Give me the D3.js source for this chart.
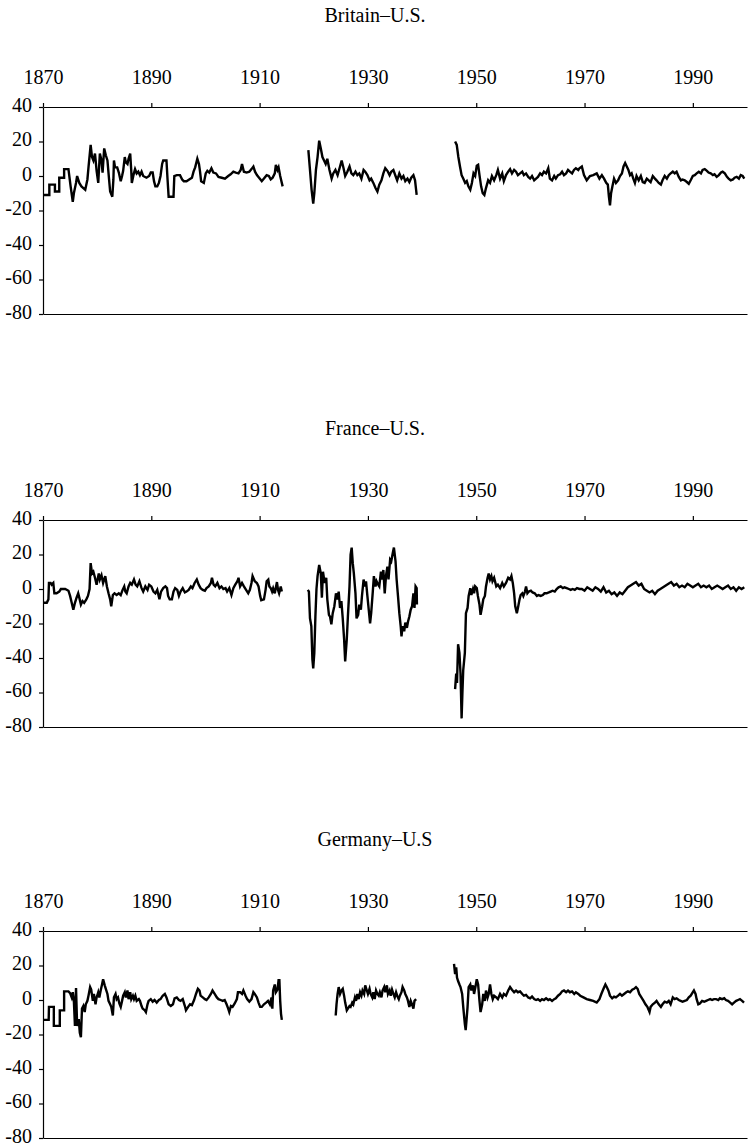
<!DOCTYPE html>
<html>
<head>
<meta charset="utf-8">
<script src="https://d3js.org/d3.v7.min.js"></script>
<style>
  body { margin: 0; background: #fff; }
</style>
</head>
<body>
<div id="chart"></div>
<script>
// axis ticks and panel titles
var yearTicks = [1870, 1890, 1910, 1930, 1950, 1970, 1990];
var valueTicks = [40, 20, 0, -20, -40, -60, -80];
var titles = ["Britain–U.S.", "France–U.S.", "Germany–U.S"];

// [year, value] pairs, one array per unbroken stretch
var britainA = [[1870,-11],[1871.17,-11],[1871.17,-5],[1872.2,-5],[1872.2,-9],[1873,-9],[1873,-1],[1873.9,-1],[1873.9,4],[1874.7,4],[1875.1,-6],[1875.5,-15],[1875.7,-10],[1876.1,-4],[1876.3,0],[1876.7,-4],[1877.1,-6],[1877.8,-8],[1878.2,-2],[1878.4,5],[1878.8,18],[1879.05,11],[1879.3,9],[1879.6,13],[1879.9,3],[1880.2,-4],[1880.5,13],[1880.8,9],[1881,2],[1881.3,16],[1881.6,12],[1881.9,9],[1882.2,-2],[1882.4,-9],[1882.8,-12],[1883,-2],[1883.1,9],[1883.3,5],[1883.7,5],[1884,2],[1884.35,-3],[1884.6,0],[1884.8,3],[1885.1,11],[1885.3,8],[1885.6,7],[1885.8,10],[1886.1,13],[1886.3,3],[1886.4,-4],[1886.7,0.5],[1887,4],[1887.3,1.5],[1887.6,2.5],[1887.9,0.5],[1888.2,2.5],[1888.5,0],[1889.1,-1],[1889.6,0],[1889.9,2],[1890.25,2],[1890.5,-3],[1890.75,-6],[1891.1,-6],[1891.4,-4],[1891.7,0],[1892,7],[1892.2,9],[1892.8,9],[1893,-2],[1893.2,-12],[1894.1,-12],[1894.25,0],[1894.7,0.5],[1895.3,0.5],[1895.7,-2],[1896,-3],[1896.5,-3],[1897,-2],[1897.5,-1],[1897.8,2.5],[1898.1,5],[1898.5,10],[1898.8,7],[1899,2.5],[1899.2,-3],[1899.7,-4],[1900.05,1.5],[1900.35,3],[1900.7,2],[1901.1,4.5],[1901.45,2],[1901.95,1.5],[1902.4,-0.5],[1903,-1],[1903.6,-1.5],[1904.2,0],[1904.65,1],[1905.15,2.5],[1905.6,2],[1906.1,1.5],[1906.5,3.5],[1906.75,7],[1907.1,2.5],[1907.6,2],[1908.1,2.5],[1908.5,4],[1908.85,5.5],[1909.15,2.5],[1909.5,0.5],[1909.9,-1],[1910.4,-3],[1910.8,-1.5],[1911.3,0.5],[1911.7,0],[1912.05,-2],[1912.4,-1],[1912.8,1.5],[1913,6.5],[1913.3,3.5],[1913.5,5],[1913.8,0],[1913.95,-2],[1914.25,-6]];
var britainB = [[1919,15],[1919.3,3.5],[1919.6,-8],[1919.9,-16],[1920.1,-10],[1920.4,3.5],[1920.7,11],[1921,20.5],[1921.3,16],[1921.6,11],[1921.9,9],[1922.2,7],[1922.5,10],[1922.9,3.5],[1923.3,-1.5],[1923.6,1.5],[1924,3.5],[1924.4,0.5],[1924.85,5.5],[1925.15,9],[1925.5,4.5],[1925.8,0],[1926.2,2.5],[1926.6,5.5],[1926.95,1.5],[1927.3,0.5],[1927.7,2.5],[1928.05,0.5],[1928.4,1.5],[1928.8,-1.5],[1929.2,3.5],[1929.5,2.5],[1929.9,0.5],[1930.3,-2.5],[1930.6,-1.5],[1931,-4],[1931.4,-7],[1931.75,-9],[1932.1,-5],[1932.5,-2.5],[1932.85,1.5],[1933.2,4.5],[1933.6,3],[1934,0.5],[1934.3,2.5],[1934.7,3.5],[1935.1,0],[1935.4,-2.5],[1935.8,1.5],[1936.2,-1.5],[1936.55,0],[1936.9,-3],[1937.3,-1.5],[1937.65,-3.5],[1938,-1],[1938.4,0.5],[1938.7,-2.5],[1939,-11]];
var britainC = [[1946.1,20],[1946.4,18],[1946.7,11],[1947,5.5],[1947.3,0.5],[1947.6,-1.5],[1947.95,-4],[1948.25,-3],[1948.55,-6],[1948.9,-8],[1949.2,-4],[1949.5,1.5],[1949.8,0],[1950.1,6],[1950.35,6.5],[1950.6,0.5],[1950.9,-6],[1951.2,-10],[1951.5,-11],[1951.8,-7],[1952.2,-2.5],[1952.55,-4],[1952.9,0],[1953.3,-2.5],[1953.7,0.5],[1954,3.5],[1954.4,-1.5],[1954.8,1.5],[1955.1,-3],[1955.5,0.5],[1955.9,2.5],[1956.25,4],[1956.6,1.5],[1957,3.5],[1957.35,2.5],[1957.7,0.5],[1958.1,1.5],[1958.5,2.5],[1958.8,0.5],[1959.2,1.5],[1959.6,-0.5],[1959.95,-1.5],[1960.3,0],[1960.7,-2.5],[1961.05,-1.5],[1961.4,-0.5],[1961.8,1.5],[1962.15,0.5],[1962.5,2.5],[1962.9,1.5],[1963.3,4.5],[1963.6,-1.5],[1964,-2.5],[1964.4,0],[1964.7,-1.5],[1965.1,0.5],[1965.5,1],[1965.85,2.5],[1966.2,0.5],[1966.6,1.5],[1966.95,3.5],[1967.3,2.5],[1967.7,1.5],[1968.05,3.5],[1968.4,4.5],[1968.85,3.5],[1969.05,4.5],[1969.5,5.5],[1969.9,0.5],[1970.4,-2.5],[1971,0],[1971.6,0.5],[1972.25,1.5],[1972.75,-1.5],[1973.2,0.5],[1973.6,-1.5],[1974,-4],[1974.3,-5],[1974.5,-12],[1974.7,-17],[1974.9,-10],[1975.15,-6],[1975.45,-1.5],[1975.8,-4],[1976.2,-2.5],[1976.55,0],[1976.9,1.5],[1977.2,5.5],[1977.5,7.5],[1977.8,5.5],[1978.1,3.5],[1978.4,0.5],[1978.7,1.5],[1979,-1.5],[1979.3,-4],[1979.6,0],[1980,-2.5],[1980.4,0],[1980.75,-3.5],[1981.1,-4],[1981.5,-1.5],[1981.85,-2.5],[1982.2,-3.5],[1982.6,0],[1983,-1.5],[1983.3,-2.5],[1983.7,-4],[1984.1,-5],[1984.4,-2.5],[1984.8,0],[1985.2,-1.5],[1985.55,0.5],[1985.9,1.5],[1986.3,2.5],[1986.65,1.5],[1987,2.5],[1987.4,-0.5],[1987.8,-2.5],[1988.1,-2],[1988.5,-2.5],[1988.9,-3.5],[1989.25,-4.5],[1989.6,-2.5],[1990,0],[1990.35,0.5],[1990.7,1.5],[1991.1,2.5],[1991.5,1.5],[1991.8,3.5],[1992.2,4],[1992.6,3],[1992.9,2],[1993.3,1.5],[1993.7,0.5],[1994,1],[1994.4,-0.5],[1994.8,0.5],[1995.2,2],[1995.5,2.5],[1995.9,1.5],[1996.3,-0.5],[1996.6,-1.5],[1997,-2.5],[1997.4,-2],[1997.7,-1],[1998.1,-0.5],[1998.5,-1.5],[1998.85,0.5],[1999.2,0],[1999.5,-1.5]];

var franceA = [[1870.06,-8],[1870.7,-8],[1871,-6],[1871.1,3.5],[1871.4,3.5],[1871.6,2.5],[1871.9,3.5],[1872.1,-2.5],[1872.5,-2.5],[1873,-1.5],[1873.3,0],[1874.1,0],[1874.7,-1],[1875,-4],[1875.3,-8],[1875.6,-12],[1875.9,-8],[1876.2,-5],[1876.5,-2.5],[1876.7,-5],[1877,-9],[1877.3,-7],[1877.6,-8],[1878,-6],[1878.3,-4],[1878.6,0],[1878.8,15],[1879.05,9],[1879.3,10],[1879.6,6.5],[1879.9,2.5],[1880.3,9],[1880.5,5.5],[1880.8,8],[1881.1,3.5],[1881.5,7.5],[1881.8,1.5],[1882.1,-2.5],[1882.4,-6],[1882.6,-10],[1882.9,-3.5],[1883.2,-2.5],[1883.6,-3.5],[1884,-2.5],[1884.35,-3.5],[1884.7,-0.5],[1885,1.5],[1885.2,-1.5],[1885.45,-2.5],[1885.8,1.5],[1886.1,3.5],[1886.4,2.5],[1886.8,5.5],[1887.1,2.5],[1887.4,1.5],[1887.8,4.5],[1888.2,0.5],[1888.5,-1.5],[1888.9,1.5],[1889.3,-0.5],[1889.6,2.5],[1890,1.5],[1890.4,-1.5],[1890.75,-2.5],[1891.1,-0.5],[1891.5,-6],[1891.8,-1.5],[1892.2,0.5],[1892.6,1.5],[1892.9,0.5],[1893.1,-4],[1893.4,-6],[1893.8,-6],[1894.1,-1.5],[1894.4,0.5],[1894.8,-0.5],[1895.1,-4],[1895.4,-1.5],[1895.8,0.5],[1896.2,-2],[1896.5,-1.5],[1896.9,-0.5],[1897.3,1.5],[1897.6,0.5],[1898,3.5],[1898.4,5.5],[1898.75,2.5],[1899.1,0.5],[1899.5,-0.5],[1899.9,-1],[1900.2,0.5],[1900.6,1.5],[1901,3.5],[1901.2,6.5],[1901.5,2.5],[1901.8,1.5],[1902.2,3.5],[1902.6,0.5],[1902.95,1.5],[1903.3,0],[1903.7,0.5],[1904,-1.5],[1904.4,0.5],[1904.8,-3.5],[1905.15,0.5],[1905.5,2.5],[1905.9,4.5],[1906.1,6.5],[1906.4,1.5],[1906.75,3.5],[1907.1,1.5],[1907.5,-0.5],[1907.9,-2.5],[1908.2,-0.5],[1908.5,3.5],[1908.7,7.5],[1909.1,4.5],[1909.5,3.5],[1909.8,1.5],[1910.1,-4],[1910.3,-6.5],[1910.8,-6],[1911.1,-0.5],[1911.3,4.5],[1911.6,5.5],[1911.8,1.5],[1912.05,0.5],[1912.3,-1.5],[1912.5,0.5],[1912.8,-2.5],[1913.2,4],[1913.4,-0.5],[1913.6,-2.5],[1913.9,1.5],[1914.1,-1.5]];
var franceB = [[1918.9,-0.5],[1919.1,-1.5],[1919.3,-17],[1919.55,-21.5],[1919.75,-41],[1919.9,-46],[1920.1,-37],[1920.3,-16],[1920.5,0],[1920.7,7.5],[1921,14],[1921.3,9],[1921.5,-5],[1921.7,10],[1922,3.5],[1922.3,6.5],[1922.5,-6],[1922.8,-15],[1923,-16],[1923.25,-20.5],[1923.5,-14],[1923.8,-10],[1924.1,-2.5],[1924.4,-6],[1924.6,-1.5],[1924.85,-11],[1925.1,-7],[1925.35,-17],[1925.6,-29],[1925.8,-42],[1926.1,-29],[1926.3,-16],[1926.6,1.5],[1926.8,20],[1927,24],[1927.2,15],[1927.4,9],[1927.7,-2.5],[1927.9,-17],[1928.2,-15],[1928.4,-9],[1928.7,-12],[1928.9,-4],[1929.2,5.5],[1929.4,1.5],[1929.65,4.5],[1929.9,-4],[1930.15,-12],[1930.4,-20],[1930.6,-14],[1930.9,-1.5],[1931.1,7.5],[1931.4,1.5],[1931.6,4.5],[1931.9,2.5],[1932.1,1.5],[1932.4,10],[1932.6,5.5],[1932.85,11],[1933.1,-2.5],[1933.35,8],[1933.6,13],[1933.8,5.5],[1934.1,17],[1934.3,16],[1934.6,21],[1934.8,24],[1935.1,16],[1935.3,5.5],[1935.55,-4],[1935.8,-14],[1936.05,-21.5],[1936.2,-27.5],[1936.4,-21.5],[1936.7,-24.5],[1936.9,-19.5],[1937.2,-22.5],[1937.4,-19],[1937.65,-16],[1937.9,-12],[1938.15,-10],[1938.4,-2.5],[1938.6,-11],[1938.8,1.5],[1939,0.5],[1939.05,-9]];
var franceC = [[1946.1,-58],[1946.3,-49],[1946.45,-54.5],[1946.65,-32],[1946.9,-37],[1947.1,-49],[1947.3,-75],[1947.45,-60],[1947.6,-47],[1947.9,-37],[1948.1,-14],[1948.4,-11],[1948.6,-4],[1948.9,0.5],[1949.1,-3.5],[1949.4,0],[1949.6,-2.5],[1949.8,1.5],[1950.1,0.5],[1950.3,-4],[1950.6,-9],[1950.8,-15],[1951.1,-10],[1951.3,-6],[1951.6,-4],[1951.8,1.5],[1952.1,6.5],[1952.3,9],[1952.55,5.5],[1952.8,7.5],[1953,4.5],[1953.3,6.5],[1953.7,1.5],[1954,2.5],[1954.4,0.5],[1954.8,3.5],[1955.1,1.5],[1955.5,3.5],[1955.9,6.5],[1956.25,5.5],[1956.5,7.5],[1956.75,3.5],[1957,-2.5],[1957.2,-10],[1957.5,-14],[1957.7,-11],[1958,-6],[1958.2,-3.5],[1958.5,-2.5],[1958.7,-4],[1959,-1.5],[1959.2,1.5],[1959.45,-2.5],[1959.7,-1.5],[1960.1,-1],[1960.4,-2],[1960.8,-2.5],[1961.2,-4],[1961.5,-3.5],[1961.9,-4],[1962.3,-3.5],[1962.6,-2.5],[1963,-2.5],[1963.4,-2],[1963.75,-1.5],[1964.1,-1],[1964.5,-1.5],[1964.85,0],[1965.2,1],[1965.6,1.5],[1966,0.5],[1966.3,1],[1966.7,0.5],[1967.1,0],[1967.45,-0.5],[1967.8,0],[1968.2,-0.5],[1968.6,0.5],[1969.05,0],[1969.5,0],[1970,-1],[1970.5,1],[1971,0],[1971.5,-1],[1972,1],[1972.5,0],[1973,-1.5],[1973.5,1],[1974,-2],[1974.5,-1],[1975,-3],[1975.5,-2],[1976,-4],[1976.5,-2],[1977,-3],[1977.5,-1],[1978,1],[1978.5,2],[1979,3],[1979.5,4],[1980,2],[1980.5,3],[1981,0],[1981.5,-1],[1982,-2],[1982.5,-1],[1983,-3],[1983.5,-1],[1984,0],[1984.5,1],[1985,2],[1985.5,3],[1986,4],[1986.5,2],[1987,3],[1987.5,1],[1988,2],[1988.5,1],[1989,3],[1989.5,2],[1990,1],[1990.5,2],[1991,3],[1991.5,1],[1992,2],[1992.5,1],[1993,2],[1993.5,0],[1994,1],[1994.5,2],[1995,1],[1995.5,0],[1996,1],[1996.5,2],[1997,0],[1997.5,1],[1998,-1],[1998.5,1],[1999,0],[1999.5,1]];

var germanyA = [[1870.06,-11.5],[1871.05,-11.5],[1871.1,-4],[1872,-4],[1872,-15],[1873.1,-15],[1873.1,-6],[1873.9,-6],[1873.9,5],[1874.7,5],[1875,4],[1875.3,1.5],[1875.5,4.5],[1875.7,-0.5],[1875.9,-15],[1876.1,7],[1876.3,-15],[1876.6,-11],[1876.8,-19],[1877,-21.5],[1877.2,-5],[1877.45,-3.5],[1877.7,-7],[1877.9,-2.5],[1878.2,-0.5],[1878.4,2.5],[1878.7,7.5],[1878.9,6],[1879.2,-0.5],[1879.4,3.5],[1879.7,-2.5],[1879.9,1.5],[1880.2,4.5],[1880.4,1.5],[1880.65,5.5],[1880.9,9],[1881.1,12],[1881.4,8.5],[1881.6,6.5],[1881.9,3.5],[1882.1,-0.5],[1882.4,-2.5],[1882.6,-4],[1882.9,-9],[1883.1,1.5],[1883.4,3.5],[1883.6,0.5],[1883.85,1.5],[1884.1,-2],[1884.35,-4],[1884.6,-0.5],[1884.8,2.5],[1885.1,4.5],[1885.3,1.5],[1885.6,5.5],[1885.8,0.5],[1886.1,4.5],[1886.3,0.5],[1886.6,2.5],[1886.8,0.5],[1887.05,2.5],[1887.3,-0.5],[1887.7,0.5],[1887.9,-0.5],[1888.2,-3.5],[1888.4,-5],[1888.8,-6],[1889,-7],[1889.3,-2.5],[1889.5,-0.5],[1889.9,0.5],[1890.25,-1],[1890.6,0],[1891,-1.5],[1891.4,0],[1891.7,0.5],[1892.1,2.5],[1892.5,3.5],[1892.8,1.5],[1893.2,-2.5],[1893.6,-3.5],[1894,-2.5],[1894.3,1],[1894.7,1.5],[1895.1,0],[1895.4,-0.5],[1895.8,0.5],[1896.2,-3.5],[1896.4,-6],[1896.8,-4],[1897.15,-2.5],[1897.5,-3],[1897.9,0],[1898.25,3.5],[1898.6,6.5],[1898.9,5.5],[1899.1,2.5],[1899.5,1.5],[1899.9,0.5],[1900.2,0],[1900.6,1.5],[1901,3.5],[1901.3,5.5],[1901.7,3.5],[1902.1,1.5],[1902.4,0.5],[1902.8,0],[1903.2,-0.5],[1903.55,0],[1903.9,-2.5],[1904.2,-5],[1904.4,-7],[1904.7,-3.5],[1905,-4],[1905.4,-2],[1905.8,0.5],[1906,4.5],[1906.4,4.5],[1906.75,3.5],[1907,5.5],[1907.4,2.5],[1907.7,0.5],[1908.1,-1],[1908.5,0.5],[1908.85,4.5],[1909.1,3.5],[1909.5,1.5],[1909.8,-1.5],[1910.1,-4],[1910.4,-4],[1910.8,-2.5],[1911.2,-1.5],[1911.55,-0.5],[1911.9,-2.5],[1912.2,1.5],[1912.35,-5],[1912.5,5.5],[1912.8,9],[1913,4.5],[1913.3,6],[1913.5,11.5],[1913.65,11.5],[1913.8,-0.5],[1913.95,-8],[1914.1,-11.5]];
var germanyB = [[1924.05,-9],[1924.2,-2.5],[1924.4,3.5],[1924.6,7.5],[1924.85,3.5],[1925.1,5.5],[1925.35,6.5],[1925.6,2.5],[1925.8,-1.5],[1926.1,-6],[1926.3,-5],[1926.6,-3.5],[1926.8,-4],[1927.1,-1.5],[1927.3,-2.5],[1927.6,1.5],[1927.8,-0.5],[1928.05,3.5],[1928.3,0.5],[1928.55,4.5],[1928.8,2.5],[1929,5.5],[1929.3,3.5],[1929.5,8.5],[1929.8,5.5],[1930,3.5],[1930.3,6.5],[1930.5,3.5],[1930.8,1.5],[1931,4.5],[1931.25,0.5],[1931.5,5.5],[1931.75,3.5],[1932,2.5],[1932.2,4.5],[1932.5,1.5],[1932.7,5.5],[1933,7.5],[1933.2,4.5],[1933.5,8.5],[1933.7,3.5],[1934,5.5],[1934.2,2.5],[1934.45,6],[1934.7,3.5],[1934.95,1.5],[1935.2,4.5],[1935.4,2.5],[1935.7,0.5],[1935.9,2.5],[1936.2,4.5],[1936.4,7.5],[1936.7,5.5],[1936.9,3.5],[1937.2,1.5],[1937.4,-0.5],[1937.65,-4],[1937.9,-0.5],[1938.15,-2.5],[1938.4,-5],[1938.6,-0.5],[1938.9,0.5]];
var germanyC = [[1945.9,21],[1946.1,15],[1946.3,19],[1946.45,13],[1946.65,11],[1946.9,9],[1947.1,7.5],[1947.4,3.5],[1947.6,-4],[1947.9,-14],[1948.05,-17.5],[1948.2,-12],[1948.4,-4],[1948.6,7.5],[1948.9,9],[1949.1,5.5],[1949.4,8.5],[1949.6,3.5],[1949.85,7.5],[1950.1,12],[1950.35,9],[1950.6,-0.5],[1950.8,-7],[1951.1,-2.5],[1951.3,3.5],[1951.6,-0.5],[1951.8,5.5],[1952.1,1.5],[1952.3,3.5],[1952.55,9],[1952.8,3.5],[1953.05,0.5],[1953.3,2.5],[1953.7,1.5],[1954,0.5],[1954.4,3.5],[1954.8,1.5],[1955.1,3.5],[1955.5,2.5],[1955.9,5.5],[1956.25,7.5],[1956.6,6],[1957,4.5],[1957.35,5.5],[1957.7,4.5],[1958.1,5],[1958.5,3.5],[1958.8,2.5],[1959.2,3],[1959.6,1.5],[1959.95,1],[1960.3,2],[1960.7,0.5],[1961.05,0],[1961.4,0.5],[1961.8,-0.5],[1962.15,0.5],[1962.5,0],[1962.9,1],[1963.3,0],[1963.6,0.5],[1964,-0.5],[1964.4,0.5],[1964.7,1],[1965.1,2.5],[1965.5,3.5],[1965.85,5],[1966.2,5.5],[1966.6,4.5],[1966.95,5.5],[1967.3,4.5],[1967.7,5],[1968.1,3.5],[1968.4,4.5],[1968.85,3.5],[1969.2,2.5],[1969.8,1.5],[1970.4,0.5],[1971,0],[1971.6,-0.5],[1972.25,-1.5],[1972.75,0.5],[1973.1,3.5],[1973.5,6.5],[1973.85,9],[1974.1,7.5],[1974.4,5.5],[1974.7,2.5],[1975.1,1],[1975.45,2],[1975.8,1.5],[1976.2,2.5],[1976.55,3.5],[1976.9,2.5],[1977.3,3.5],[1977.7,4.5],[1978,5],[1978.4,4.5],[1978.8,6],[1979.15,6.5],[1979.5,7.5],[1979.8,6.5],[1980.1,3.5],[1980.5,1.5],[1980.9,-0.5],[1981.25,-2.5],[1981.6,-4],[1982,-7],[1982.2,-4],[1982.6,-2.5],[1983,-1.5],[1983.3,-0.5],[1983.7,-2.5],[1984.1,-4],[1984.4,-2.5],[1984.8,-1],[1985.2,-1.5],[1985.55,-0.5],[1985.9,-2.5],[1986.3,1.5],[1986.65,0.5],[1987,1],[1987.4,0],[1987.75,-0.5],[1988.1,-1],[1988.5,-0.5],[1988.9,0],[1989.25,1.5],[1989.6,2.5],[1990,4.5],[1990.2,5.5],[1990.5,3.5],[1990.7,0.5],[1991,-2.5],[1991.3,-2],[1991.7,-0.5],[1992.1,-1],[1992.45,-0.5],[1992.8,0],[1993.2,0.5],[1993.55,0],[1993.9,0.5],[1994.3,0.5],[1994.7,0],[1995,1],[1995.4,0.5],[1995.8,1],[1996.1,0],[1996.5,-0.5],[1996.9,-1.5],[1997.25,-2.5],[1997.6,-1.5],[1998,-0.5],[1998.35,0],[1998.7,0.5],[1999.1,-0.5],[1999.45,-1.5]];

var series = [
    [britainA, britainB, britainC],
    [franceA, franceB, franceC],
    [germanyA, germanyB, germanyC]
];

var w = 750, h = 1147;
var left = 43, right = 747, panelH = 207;
var panelTop = [107, 520, 931];
var serif = '"Liberation Serif", "Times New Roman", Times, "DejaVu Serif", serif';

var svg = d3.select('#chart').append('svg')
    .attr('width', w).attr('height', h)
    .style('background', '#fff');

var x = d3.scaleLinear().domain([1870, 2000]).range([left, right]);
var y = d3.scaleLinear().domain([-80, 40]).range([panelH, 0]);

var line = d3.line()
    .x(function(d) { return x(d[0]); })
    .y(function(d) { return y(d[1]); });

titles.forEach(function(t, i) {
    var g = svg.append('g').attr('transform', 'translate(0,' + panelTop[i] + ')');

    g.append('text')
        .attr('x', 375).attr('y', -85)
        .attr('text-anchor', 'middle')
        .text(t);

    // years along the top edge
    g.append('g')
        .call(d3.axisTop(x).tickValues(yearTicks).tickSize(4).tickSizeOuter(0)
            .tickPadding(19).tickFormat(d3.format('d')));

    // plain bottom edge
    g.append('g')
        .attr('transform', 'translate(0,' + panelH + ')')
        .call(d3.axisBottom(x).tickValues([]).tickSizeOuter(0));

    var yAx = g.append('g')
        .attr('transform', 'translate(' + left + ',0)')
        .call(d3.axisLeft(y).tickValues(valueTicks).tickSize(4).tickSizeOuter(0)
            .tickPadding(7).tickFormat(function(d) { return String(d); }));
    // value labels sit a touch above their ticks
    yAx.selectAll('.tick text').attr('dy', '0.2em');

    g.selectAll('g').attr('font-family', null).attr('font-size', null);
    g.selectAll('text')
        .style('font-family', serif)
        .style('font-size', '20px')
        .style('fill', '#000');
    g.selectAll('.domain, .tick line').attr('stroke', '#000').attr('stroke-width', 1.2);

    series[i].forEach(function(seg) {
        g.append('path')
            .datum(seg)
            .attr('d', line)
            .attr('fill', 'none')
            .attr('stroke', '#000')
            .attr('stroke-width', 2.4)
            .attr('stroke-linejoin', 'miter');
    });
});
</script>
</body>
</html>
